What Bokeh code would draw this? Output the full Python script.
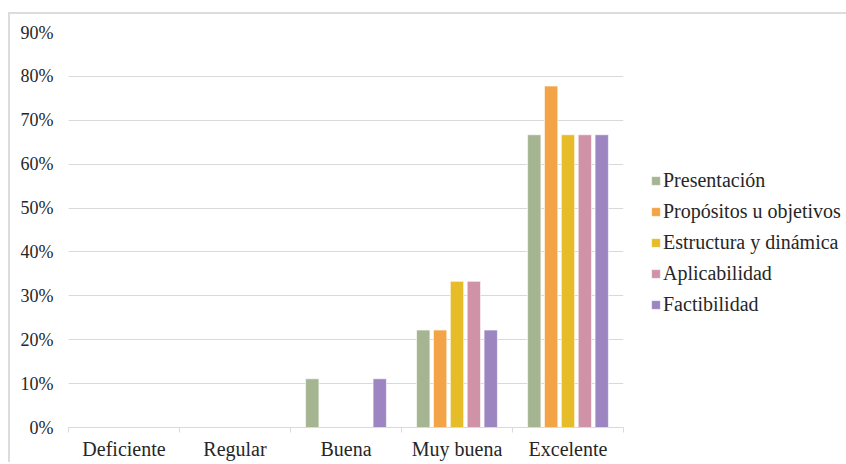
from bokeh.plotting import figure
from bokeh.models import (Range1d, FixedTicker, NumeralTickFormatter, Legend, LegendItem,
                          ColumnDataSource)
from bokeh.embed import file_html
from bokeh.resources import INLINE
import numpy as np

categories = ["Deficiente", "Regular", "Buena", "Muy buena", "Excelente"]
series_names = ["Presentación", "Propósitos u objetivos", "Estructura y dinámica",
                "Aplicabilidad", "Factibilidad"]
presentacion = [0.0, 0.0, 0.111, 0.222, 0.667]
propositos = [0.0, 0.0, 0.0, 0.222, 0.778]
estructura = [0.0, 0.0, 0.0, 0.333, 0.667]
aplicabilidad = [0.0, 0.0, 0.0, 0.333, 0.667]
factibilidad = [0.0, 0.0, 0.111, 0.222, 0.667]
y_ticks = [0.0, 0.1, 0.2, 0.3, 0.4, 0.5, 0.6, 0.7, 0.8, 0.9]

series_values = [presentacion, propositos, estructura, aplicabilidad, factibilidad]
colors = ["#A5B592", "#F3A447", "#E7BC29", "#D092A7", "#9C85C0"]

FONT = "Liberation Serif"
TEXT = "#262626"
GRID = "#D9D9D9"

p = figure(frame_width=555, frame_height=395, output_backend="svg", toolbar_location=None,
           x_range=Range1d(0, len(categories)), y_range=Range1d(0, 0.9),
           min_border_left=58, min_border_top=18, min_border_bottom=35,
           min_border_right=0)
p.styles = {"margin-left": "8px", "margin-top": "12px",
            "border-top": "2px solid #DCDCDC", "border-left": "2px solid #DCDCDC"}
p.outline_line_color = None
p.background_fill_color = "white"
p.border_fill_color = "white"

centers = np.arange(len(categories)) + 0.5
pitch = 0.152
bw = 0.12
items = []
for i, (name, vals, col) in enumerate(zip(series_names, series_values, colors)):
    src = ColumnDataSource(dict(x=centers + (i - 2) * pitch, top=vals))
    r = p.vbar(x="x", top="top", width=bw, bottom=0, source=src,
               fill_color=col, line_color="white", line_width=0.6)
    items.append(LegendItem(label=name, renderers=[r]))

# axes
xa = p.xaxis[0]
xa.ticker = FixedTicker(ticks=list(centers), minor_ticks=list(range(len(categories) + 1)))
xa.major_label_overrides = {float(c): lab for c, lab in zip(centers, categories)}
xa.major_tick_line_color = None
xa.major_tick_out = 0
xa.minor_tick_out = 5
xa.minor_tick_in = 0
xa.minor_tick_line_color = GRID
xa.axis_line_color = GRID
xa.axis_line_width = 1.2
xa.major_label_text_font = FONT
xa.major_label_text_font_size = "20px"
xa.major_label_text_color = TEXT
xa.major_label_standoff = 5

ya = p.yaxis[0]
ya.ticker = FixedTicker(ticks=y_ticks)
ya.formatter = NumeralTickFormatter(format="0%")
ya.axis_line_color = None
ya.major_tick_line_color = None
ya.minor_tick_line_color = None
ya.major_tick_out = 0
ya.major_label_standoff = 15
ya.major_label_text_font = FONT
ya.major_label_text_font_size = "18px"
ya.major_label_text_color = TEXT

p.xgrid.grid_line_color = None
p.ygrid.grid_line_color = GRID
p.ygrid.grid_line_width = 1.2

legend = Legend(items=items, location=(27, 111), padding=0, margin=0,
                border_line_color=None, background_fill_alpha=0,
                glyph_width=11, glyph_height=11, label_standoff=2,
                label_height=20, spacing=8,
                label_text_font=FONT, label_text_font_size="20px",
                label_text_color=TEXT)
p.add_layout(legend, "right")

open("out.html", "w").write(file_html(p, INLINE))
